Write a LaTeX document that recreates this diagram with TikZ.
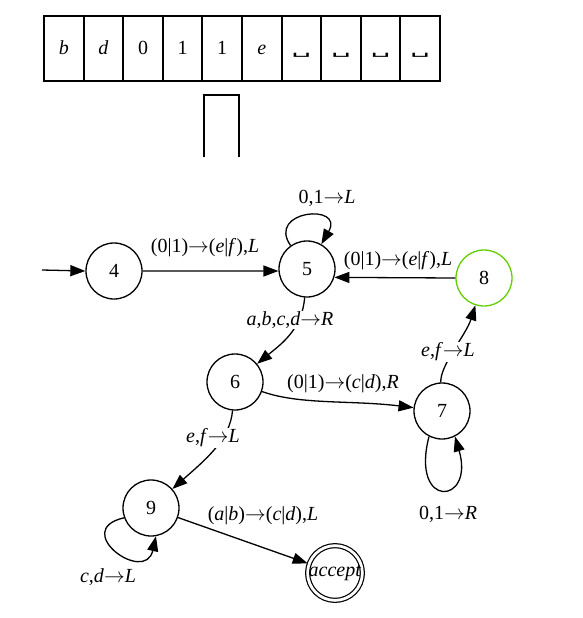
\documentclass[tikz,border=0pt]{standalone}
\usepackage{fontspec}
\usepackage{graphicx}
\setmainfont{Liberation Serif}
\newfontfamily\symfont{DejaVu Sans}
\usetikzlibrary{arrows.meta}
\definecolor{chart}{RGB}{102,205,0}
\newcommand\vsp{\scalebox{1.7}[0.7]{\symfont\fontsize{18}{20}\selectfont ␣}}
\newcommand\ii[1]{\textit{#1}}
\newcommand\ar{$\rightarrow$}
\begin{document}
\begin{tikzpicture}[x=1pt,y=-1pt, font=\fontsize{20}{23}\selectfont,
  state/.style={circle, draw, line width=1.3pt, minimum size=56pt, inner sep=0pt},
  edge/.style={line width=1.3pt, -{Triangle[length=15pt,width=11pt]}},
  lbl/.style={fill=white, inner sep=1pt},
  cell/.style={draw, line width=2pt, minimum width=39.6pt, minimum height=65pt, inner sep=0pt, text height=15pt, text depth=2pt}]
\useasboundingbox (0,0) rectangle (582,618);
% tape
\foreach \t [count=\i] in {\ii{b},\ii{d},0,1,1,\ii{e},\vsp,\vsp,\vsp,\vsp}
  \node[cell] (c\i) at ({44+39.6*(\i-0.5)},48.5) {\t};
% head
\draw[line width=2pt] (203.5,157) -- (203.5,94.5) -- (239,94.5) -- (239,157);
% states
\node[state] (q4) at (114,271) {4};
\node[state] (q5) at (307,269) {5};
\node[state, draw=chart] (q8) at (484,278) {8};
\node[state] (q6) at (235,382) {6};
\node[state] (q7) at (442,411) {7};
\node[state] (q9) at (151,508) {9};
\node[state, minimum size=52pt, double, double distance=2.8pt, line width=1.2pt] (acc) at (335,573) {\ii{accept}};
% edges
\coordinate (s) at (42,270);
\draw[edge] (s) -- (q4.180);
\draw[edge] (q4.0) -- (q5.184);
\node (l45) at (205,248) {(0|1)\ar(\ii{e}|\ii{f}),\ii{L}};
\draw[edge] (q5.125) .. controls (266,210) and (345,203) .. (q5.60);
\node (l55) at (327,198) {0,1\ar\ii{L}};
\draw[edge] (q8.180) -- (q5.-17);
\node (l85) at (398,261) {(0|1)\ar(\ii{e}|\ii{f}),\ii{L}};
\draw[edge] (q5) .. controls (302,330) and (280,345) .. (q6);
\node[lbl] (l56) at (290,320) {\ii{a},\ii{b},\ii{c},\ii{d}\ar\ii{R}};
\draw[edge] (q6) .. controls (300,405) and (350,400) .. (q7);
\node (l67) at (343,384) {(0|1)\ar(\ii{c}|\ii{d}),\ii{R}};
\draw[edge] (q7) .. controls (440,365) and (466,335) .. (q8);
\node[lbl] (l78) at (448,352) {\ii{e},\ii{f}\ar\ii{L}};
\draw[edge] (q7.243) .. controls (410,510) and (475,505) .. (q7.297);
\node (l77) at (448,514) {0,1\ar\ii{R}};
\draw[edge] (q6) .. controls (230,440) and (205,460) .. (q9);
\node[lbl] (l69) at (213,438) {\ii{e},\ii{f}\ar\ii{L}};
\draw[edge] (q9.200) .. controls (70,530) and (145,585) .. (q9.280);
\node (l99) at (108,577) {\ii{c},\ii{d}\ar\ii{L}};
\draw[edge, shorten >=1pt] (q9) -- (acc);
\node (l9a) at (263,516) {(\ii{a}|\ii{b})\ar(\ii{c}|\ii{d}),\ii{L}};
\end{tikzpicture}
\end{document}
